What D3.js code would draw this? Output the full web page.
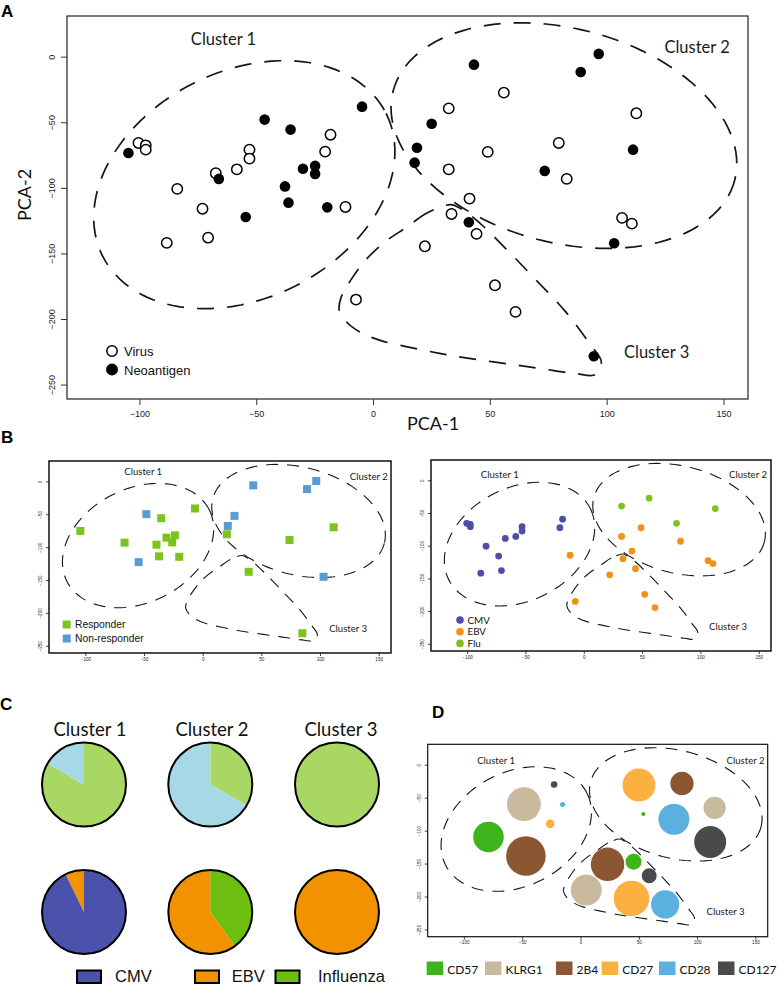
<!DOCTYPE html>
<html><head><meta charset="utf-8">
<script src="https://cdn.jsdelivr.net/npm/d3@7"></script>
<style>body{margin:0;background:#fff}svg{display:block}</style>
</head><body>
<svg id="chart" width="777" height="986"></svg>
<script>
// ---------- shared axes ----------
const xDomain = [-131, 160.5];
const yDomain = [-261, 31];
const xTicks = [-100, -50, 0, 50, 100, 150];
const yTicks = [0, -50, -100, -150, -200, -250];

// ---------- Panel A / B-right : virus-specific points ----------
const virusX = [-100.4,-97.3,-97.3,-83.8,-88.3,-73.0,-70.6,-67.3,-58.3,-52.9,-52.9,-20.5,-18.2,-11.8,-7.3,56.0,32.4,112.7,49.1,79.5,32.4,82.9,41.3,33.6,44.3,106.6,110.8,22.2,52.2,61.0];
const virusY = [-65.8,-67.6,-70.9,-100.8,-142.0,-115.9,-138.0,-88.9,-85.9,-70.9,-77.7,-72.4,-59.5,-114.6,-185.2,-27.4,-39.4,-43.2,-72.6,-65.8,-85.9,-93.2,-108.2,-119.9,-135.1,-122.9,-127.3,-144.6,-174.3,-194.6];
const virusType = ["CMV","CMV","CMV","CMV","CMV","CMV","CMV","CMV","CMV","CMV","CMV","CMV","CMV","EBV","EBV","Flu","Flu","Flu","EBV","Flu","EBV","EBV","EBV","EBV","EBV","EBV","EBV","EBV","EBV","EBV"];

// ---------- Panel A : neoantigen points ----------
const neoX = [-104.7,-66.0,-54.5,-46.4,-35.3,-37.7,-36.2,-30.0,-24.8,-24.8,-19.6,-4.7,43.2,96.6,88.9,25.1,18.8,17.8,111.3,73.5,41.0,103.2,94.5];
const neoY = [-73.4,-93.2,-122.2,-48.0,-55.6,-98.9,-111.3,-85.4,-83.3,-89.4,-114.9,-38.1,-6.1,2.1,-11.7,-51.1,-69.4,-80.8,-70.9,-87.1,-126.3,-142.3,-228.4];

// ---------- Panel B-left : neoantigen response ----------
const respX = [-104.3,-66.6,-35.4,-6.6,-39.4,-30.9,-23.7,-26.0,-37.2,-20.0,20.6,74.0,111.6,39.2,85.0,-48.0,-54.6,43.1,88.9,96.8,21.4,27.1,103.0];
const respY = [-75.4,-93.2,-56.0,-41.2,-96.3,-85.6,-82.0,-92.7,-114.0,-114.7,-80.4,-89.1,-69.8,-137.6,-230.9,-49.8,-122.8,-6.1,-11.7,0.5,-67.7,-52.4,-145.1];
const respStatus = ["Responder","Responder","Responder","Responder","Responder","Responder","Responder","Responder","Responder","Responder","Responder","Responder","Responder","Responder","Responder","Non-responder","Non-responder","Non-responder","Non-responder","Non-responder","Non-responder","Non-responder","Non-responder"];

// ---------- cluster outlines (data units) ----------
const clusterNames = ["Cluster 1", "Cluster 2", "Cluster 3"];
const cluster1Ellipse = {cx: -55.1, cy: -97.6, ux: 60.7, uy: 54.3, vx: 21.7, vy: -77.4};
const cluster2Ellipse = {cx: 81.7, cy: -60.2, ux: 73.1, uy: -34.0, vx: -11.5, vy: -79.0};
const cluster3X = [33.3,23.5,14.1,4.7,-3,-9.4,-13.7,-14.5,-11.5,-5.1,3.4,16.2,29,41.8,56.8,71.7,86.6,95.2,97.7,93,82.4,69.6,56.8,44,37.6];
const cluster3Y = [-112.8,-118.9,-130.3,-141.8,-154.7,-170,-183.7,-192.8,-202,-210.4,-216.5,-221.8,-226.4,-230.2,-234,-237.8,-241.6,-242.4,-232.5,-219.5,-194.4,-170,-146.3,-124.2,-115.9];

// ---------- Panel C : pie counts per cluster ----------
const pieResponder = [10, 3, 2];
const pieNonResponder = [2, 6, 0];
const pieCMV = [13, 0, 0];
const pieEBV = [1, 6, 3];
const pieFlu = [0, 4, 0];

// ---------- Panel D : marker bubbles ----------
const markers = ["CD57", "KLRG1", "2B4", "CD27", "CD28", "CD127"];
const dMarker = ["CD127","CD28","CD27","KLRG1","CD57","2B4","CD27","2B4","CD57","CD28","KLRG1","CD127","2B4","CD57","CD127","KLRG1","CD27","CD28"];
const dX = [-22.6,-15.4,-26.0,-48.5,-78.9,-46.8,50.1,87.0,53.8,80.1,115.0,111.2,23.2,45.5,58.9,4.9,43.7,72.6];
const dY = [-30.0,-60.4,-89.8,-59.8,-109.6,-138.5,-30.9,-28.4,-74.6,-82.7,-65.4,-117.2,-151.2,-147.1,-168.5,-190.3,-202.9,-212.0];
const dValue = [2.7,1.6,4.6,72,58.5,98,68,34,1,60,31,64,70,16,14,60,79,50];

// ---------- styles ----------
const SANS = "'Liberation Sans', Arial, Helvetica, sans-serif";
const MYR = "Lato, 'Open Sans', sans-serif";
const respColor = {"Responder": "#7DC31F", "Non-responder": "#5B9BD5"};
const virusColor = {"CMV": "#4B4FA8", "EBV": "#F39019", "Flu": "#7DC31F"};
const pieColor = {"Responder": "#A8D764", "Non-responder": "#A6D9E5", "CMV": "#4A52AB", "EBV": "#F39200", "Influenza": "#6CBE0F"};
const markerColor = {"CD57": "#3DB31C", "KLRG1": "#C9B99D", "2B4": "#8C5632", "CD27": "#FBB03F", "CD28": "#5CB0E0", "CD127": "#4A4A4C"};

const svg = d3.select("#chart");

function frame(box, o) {
  const x = d3.scaleLinear().domain(xDomain).range([box.x0, box.x1]);
  const y = d3.scaleLinear().domain(yDomain).range([box.y1, box.y0]);
  const g = svg.append("g");
  const ax = g.append("g").attr("transform", `translate(0,${box.y1})`)
    .call(d3.axisBottom(x).tickValues(xTicks).tickSize(o.tick).tickPadding(o.xPad).tickFormat(d3.format("d")));
  const ay = g.append("g").attr("transform", `translate(${box.x0},0)`)
    .call(d3.axisLeft(y).tickValues(yTicks).tickSize(o.tick).tickFormat(d3.format("d")));
  [ax, ay].forEach(a => {
    a.select(".domain").remove();
    a.selectAll("line").attr("stroke", o.stroke).attr("stroke-width", o.tickW);
    a.selectAll("text").attr("font-family", SANS).attr("font-size", o.tickFont).attr("fill", "#222");
  });
  ay.selectAll("text").attr("transform", "rotate(-90)").attr("x", 0).attr("y", -o.yLab)
    .attr("dy", null).attr("text-anchor", "middle");
  g.append("rect").attr("x", box.x0).attr("y", box.y0)
    .attr("width", box.x1 - box.x0).attr("height", box.y1 - box.y0)
    .attr("fill", "none").attr("stroke", o.stroke).attr("stroke-width", o.boxW);
  return {x, y, g};
}

function outlines(f, o) {
  const line = d3.line().x(d => f.x(d[0])).y(d => f.y(d[1]));
  const og = f.g.append("g").attr("fill", "none").attr("stroke", "#151515")
    .attr("stroke-width", o.w).attr("stroke-dasharray", o.dash);
  [cluster1Ellipse, cluster2Ellipse].forEach(e => {
    const pts = d3.range(120).map(i => {
      const t = i / 120 * 2 * Math.PI;
      return [e.cx + e.ux * Math.cos(t) + e.vx * Math.sin(t), e.cy + e.uy * Math.cos(t) + e.vy * Math.sin(t)];
    });
    og.append("path").attr("d", line.curve(d3.curveLinearClosed)(pts));
  });
  const c3 = cluster3X.map((v, i) => [v, cluster3Y[i]]);
  og.append("path").attr("d", line.curve(d3.curveCatmullRomClosed)(c3));
}

function clusterLabels(f, pos, size) {
  f.g.selectAll(null).data(clusterNames).join("text")
    .attr("x", (d, i) => f.x(pos[i][0])).attr("y", (d, i) => f.y(pos[i][1]))
    .attr("text-anchor", "middle").attr("font-family", MYR).attr("font-size", size)
    .attr("fill", "#1a1a1a").text(d => d);
}

function panelLetter(t, x, y) {
  svg.append("text").attr("x", x).attr("y", y).attr("font-family", SANS)
    .attr("font-weight", "bold").attr("font-size", 17).attr("fill", "#000").text(t);
}

// ================= Panel A =================
const boxA = {x0: 67, y0: 16, x1: 748, y1: 399};
const fA = frame(boxA, {tick: 6, xPad: 6, yLab: 12, tickFont: 9, stroke: "#333", tickW: 1, boxW: 1.3});
outlines(fA, {w: 1.7, dash: "17,13"});
clusterLabels(fA, [[-64, 9.1], [138.7, 3.0], [121.4, -229.4]], 16.5);
fA.g.selectAll(null).data(d3.range(virusX.length)).join("circle")
  .attr("cx", i => fA.x(virusX[i])).attr("cy", i => fA.y(virusY[i])).attr("r", 5.2)
  .attr("fill", "#fff").attr("stroke", "#000").attr("stroke-width", 1.5);
fA.g.selectAll(null).data(d3.range(neoX.length)).join("circle")
  .attr("cx", i => fA.x(neoX[i])).attr("cy", i => fA.y(neoY[i])).attr("r", 5.3)
  .attr("fill", "#000");
// legend A
const legA = [{k: "Virus", filled: false}, {k: "Neoantigen", filled: true}];
legA.forEach((d, i) => {
  const cy = 351 + i * 18.5;
  svg.append("circle").attr("cx", 112).attr("cy", cy).attr("r", 5.2)
    .attr("fill", d.filled ? "#000" : "#fff").attr("stroke", "#000").attr("stroke-width", 1.5);
  svg.append("text").attr("x", 124).attr("y", cy + 5).attr("font-family", SANS)
    .attr("font-size", 13).attr("fill", "#111").text(d.k);
});
svg.append("text").attr("x", 433).attr("y", 430).attr("text-anchor", "middle")
  .attr("font-family", MYR).attr("font-size", 18).attr("fill", "#111").text("PCA-1");
svg.append("text").attr("transform", "translate(31,195) rotate(-90)").attr("text-anchor", "middle")
  .attr("font-family", MYR).attr("font-size", 18).attr("fill", "#111").text("PCA-2");
panelLetter("A", 1, 17);

// ================= Panel B =================
const bOpt = {tick: 3, xPad: 2, yLab: 7, tickFont: 4.6, stroke: "#111", tickW: 0.8, boxW: 1.5};
const boxBL = {x0: 49, y0: 461, x1: 391, y1: 653};
const fBL = frame(boxBL, bOpt);
outlines(fBL, {w: 1.1, dash: "12,9"});
clusterLabels(fBL, [[-50.7, 10.2], [141.6, 2.6], [124, -229.4]], 9.6);
fBL.g.selectAll(null).data(d3.range(respX.length)).join("rect")
  .attr("x", i => fBL.x(respX[i]) - 4).attr("y", i => fBL.y(respY[i]) - 4)
  .attr("width", 8).attr("height", 8).attr("fill", i => respColor[respStatus[i]]);
["Responder", "Non-responder"].forEach((k, i) => {
  const cy = 624.5 + i * 14;
  svg.append("rect").attr("x", 62.7).attr("y", cy - 4).attr("width", 8).attr("height", 8).attr("fill", respColor[k]);
  svg.append("text").attr("x", 75).attr("y", cy + 3.7).attr("font-family", SANS)
    .attr("font-size", 10.3).attr("fill", "#111").text(k);
});

const boxBR = {x0: 431, y0: 460, x1: 771, y1: 651};
const fBR = frame(boxBR, bOpt);
outlines(fBR, {w: 1.1, dash: "12,9"});
clusterLabels(fBR, [[-72, 3], [140.8, 3], [123.7, -229.4]], 9.6);
fBR.g.selectAll(null).data(d3.range(virusX.length)).join("circle")
  .attr("cx", i => fBR.x(virusX[i])).attr("cy", i => fBR.y(virusY[i])).attr("r", 3.4)
  .attr("fill", i => virusColor[virusType[i]]);
["CMV", "EBV", "Flu"].forEach((k, i) => {
  const cy = 620 + i * 11.7;
  svg.append("circle").attr("cx", 460).attr("cy", cy).attr("r", 3.8).attr("fill", virusColor[k]);
  svg.append("text").attr("x", 467.5).attr("y", cy + 3.5).attr("font-family", MYR)
    .attr("font-size", 9.8).attr("fill", "#111").text(k);
});
panelLetter("B", 1, 443);

// ================= Panel C =================
const pieCX = [84, 210.3, 337];
const pieRowY = [784.5, 912];
const pieR = 42;
const titleCX = [90, 212, 341];
const arc = d3.arc().innerRadius(0).outerRadius(pieR);
const pie = d3.pie().sort(null).value(d => d.v);
clusterNames.forEach((name, i) => {
  svg.append("text").attr("x", titleCX[i]).attr("y", 735.7).attr("text-anchor", "middle")
    .attr("font-family", MYR).attr("font-size", 18.5).attr("fill", "#111").text(name);
  const rows = [
    [{k: "Responder", v: pieResponder[i]}, {k: "Non-responder", v: pieNonResponder[i]}],
    [{k: "Influenza", v: pieFlu[i]}, {k: "CMV", v: pieCMV[i]}, {k: "EBV", v: pieEBV[i]}]
  ];
  rows.forEach((row, r) => {
    const g = svg.append("g").attr("transform", `translate(${pieCX[i]},${pieRowY[r]})`);
    g.selectAll("path").data(pie(row)).join("path").attr("d", arc).attr("fill", d => pieColor[d.data.k]);
    g.append("circle").attr("r", pieR).attr("fill", "none").attr("stroke", "#000").attr("stroke-width", 2);
  });
});
const legC = [{k: "CMV", x: 77, tx: 115}, {k: "EBV", x: 195, tx: 231.7}, {k: "Influenza", x: 275.5, tx: 318}];
legC.forEach(d => {
  svg.append("rect").attr("x", d.x).attr("y", 970.5).attr("width", 24).attr("height", 12.5)
    .attr("fill", pieColor[d.k]).attr("stroke", "#000").attr("stroke-width", 2);
  svg.append("text").attr("x", d.tx).attr("y", 981.5)
    .attr("font-family", SANS).attr("font-size", 16.5).attr("fill", "#111").text(d.k);
});
panelLetter("C", 0, 710);

// ================= Panel D =================
const boxD = {x0: 427.7, y0: 744.3, x1: 767.7, y1: 936.7};
const fD = frame(boxD, {tick: 3, xPad: 1.5, yLab: 7, tickFont: 4.6, stroke: "#111", tickW: 0.8, boxW: 1.2});
outlines(fD, {w: 1.1, dash: "12,9"});
clusterLabels(fD, [[-72.3, 1.5], [141.5, 1.5], [124.4, -228.3]], 9.6);
const rScale = d3.scaleSqrt().domain([0, 100]).range([0, 20]);
fD.g.selectAll(null).data(d3.range(dX.length)).join("circle")
  .attr("cx", i => fD.x(dX[i])).attr("cy", i => fD.y(dY[i])).attr("r", i => rScale(dValue[i]))
  .attr("fill", i => markerColor[dMarker[i]]);
const legDX = [426.7, 485, 556, 601.7, 659, 718];
markers.forEach((m, i) => {
  svg.append("rect").attr("x", legDX[i]).attr("y", 961.5).attr("width", 16.5).attr("height", 13.5).attr("fill", markerColor[m]);
  svg.append("text").attr("x", legDX[i] + 20.5).attr("y", 974).attr("font-family", MYR)
    .attr("font-size", 12).attr("fill", "#111").text(m);
});
panelLetter("D", 432, 718);
</script></body></html>
